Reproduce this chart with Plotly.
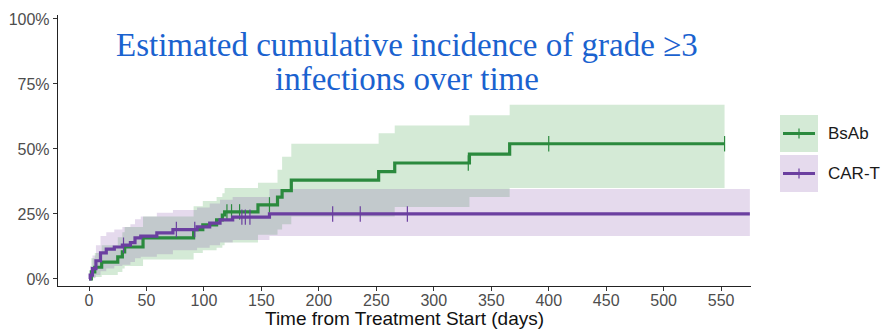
import numpy as np
import plotly.graph_objects as go

# ---------------- data ----------------
bsab_time = [0, 2, 5, 11, 25, 29, 31, 47, 91, 99, 111, 116, 118, 147, 164, 168, 176, 252, 266, 331, 366, 553]
bsab_est = [0, 2.7, 4.5, 6.5, 8.5, 10.4, 12.3, 15.8, 19.0, 20.8, 22.7, 24.6, 25.8, 28.5, 31.5, 34.0, 38.0, 41.3, 44.6, 48.0, 52.0, 52.0]
bsab_lo = [0, 0.3, 0.8, 1.5, 2.7, 4.0, 5.0, 7.5, 10, 11, 12, 13, 14, 17, 19, 21, 24, 24, 27.7, 31.5, 35, 35]
bsab_hi = [0, 8, 10, 13, 16, 18, 20, 24, 28, 30, 31.5, 33, 35, 37, 42, 47, 52, 56, 59, 63, 67, 67]
bsab_censor = [120, 124, 131, 157, 330, 400, 553]

cart_time = [0, 1, 3, 6, 10, 15, 22, 29, 36, 40, 45, 59, 73, 94, 105, 114, 125, 157, 575]
cart_est = [0, 1.5, 4, 7, 10, 11.5, 12.3, 13, 14, 15.8, 16.5, 17.7, 19, 20, 21.5, 22.7, 23.8, 25, 25]
cart_lo = [0, 0, 0.5, 1.5, 3, 4, 5, 5.5, 6.5, 8, 8.5, 9.5, 11, 12, 13, 14, 15, 16.5, 16.5]
cart_hi = [0, 5, 9, 13, 16.5, 18, 19, 20, 21, 23, 24, 25.5, 26.5, 27.5, 29, 30.5, 31.5, 34.6, 34.6]
cart_censor = [30, 76, 92, 133, 136, 140, 212, 236, 277]

groups = ["BsAb", "CAR-T"]
x_ticks = list(range(0, 551, 50))
y_ticks = [0, 25, 50, 75, 100]
y_tick_labels = ["0%", "25%", "50%", "75%", "100%"]

title_line1 = "Estimated cumulative incidence of grade \u22653"
title_line2 = "infections over time"
x_title = "Time from Treatment Start (days)"

# ---------------- style ----------------
GREEN = "#2b8a3e"
PURPLE = "#6b3fa0"
GREEN_FILL = "rgba(60,160,70,0.22)"
PURPLE_FILL = "rgba(125,70,165,0.2)"


def step_at(times, vals, t):
    i = np.searchsorted(np.array(times), t, side="right") - 1
    return [vals[k] for k in i]


fig = go.Figure()

series = [
    (groups[0], bsab_time, bsab_est, bsab_lo, bsab_hi, bsab_censor, GREEN, GREEN_FILL),
    (groups[1], cart_time, cart_est, cart_lo, cart_hi, cart_censor, PURPLE, PURPLE_FILL),
]

for name, t, est, lo, hi, cens, col, fillc in series:
    y_lo = [v / 100 for v in lo]
    y_hi = [v / 100 for v in hi]
    fig.add_trace(go.Scatter(x=t, y=y_lo, mode="lines", line=dict(width=0, shape="hv"),
                             showlegend=False, hoverinfo="skip"))
    fig.add_trace(go.Scatter(x=t, y=y_hi, mode="lines", line=dict(width=0, shape="hv"),
                             fill="tonexty", fillcolor=fillc, showlegend=False, hoverinfo="skip"))

for name, t, est, lo, hi, cens, col, fillc in series:
    fig.add_trace(go.Scatter(x=t, y=[v / 100 for v in est], mode="lines",
                             line=dict(color=col, width=3.2, shape="hv"), name=name,
                             showlegend=False))
    cy = [v / 100 for v in step_at(t, est, cens)]
    fig.add_trace(go.Scatter(x=cens, y=cy, mode="markers",
                             marker=dict(symbol="line-ns", size=11, line=dict(color=col, width=1.2)),
                             showlegend=False, hoverinfo="skip"))

# ---------------- layout ----------------
L, R, T, B = 58, 132, 15, 43
W, H = 883, 329
pw, ph = W - L - R, H - T - B


def px2x(px):
    return (px - L) / pw


def px2y(py):
    return (H - B - py) / ph


fig.update_layout(
    width=W, height=H,
    margin=dict(l=L, r=R, t=T, b=B, autoexpand=False),
    plot_bgcolor="white", paper_bgcolor="white",
    showlegend=False,
    font=dict(family="Liberation Sans, Arial, sans-serif"),
)
fig.update_xaxes(
    range=[-27, 576], tickvals=x_ticks, showgrid=False, zeroline=False, automargin=False,
    showline=True, linecolor="#222222", linewidth=1.4,
    ticks="outside", ticklen=4, tickcolor="#333333", tickwidth=1,
    ticklabelstandoff=-4,
    tickfont=dict(size=16, color="#4d4d4d"),
)
fig.update_yaxes(
    range=[-0.027, 1.015], tickvals=[v / 100 for v in y_ticks], ticktext=y_tick_labels,
    showgrid=False, zeroline=False, automargin=False,
    showline=True, linecolor="#222222", linewidth=1.4,
    ticks="outside", ticklen=4, tickcolor="#333333", tickwidth=1,
    tickfont=dict(size=16, color="#4d4d4d"),
)

# x-axis title
fig.add_annotation(text=x_title, xref="paper", yref="paper", x=px2x(404), y=px2y(318),
                   showarrow=False, xanchor="center", yanchor="middle",
                   font=dict(size=19, color="#111111"))

# title (two lines, serif, blue)
TITLE_COL = "#1a62cf"
for txt, yc in [(title_line1, 45), (title_line2, 79)]:
    fig.add_annotation(text=txt, xref="paper", yref="paper", x=px2x(407), y=px2y(yc),
                       showarrow=False, xanchor="center", yanchor="middle",
                       font=dict(family="Liberation Serif, Times New Roman, serif",
                                 size=33, color=TITLE_COL))

# legend (manual)
legend_items = [(groups[0], GREEN, GREEN_FILL, 115, 152), (groups[1], PURPLE, PURPLE_FILL, 155, 192)]
for name, col, fillc, y0, y1 in legend_items:
    fig.add_shape(type="rect", xref="paper", yref="paper", x0=px2x(780), x1=px2x(818),
                  y0=px2y(y1), y1=px2y(y0), fillcolor=fillc, line=dict(width=0), layer="below")
    ym = px2y((y0 + y1) / 2)
    fig.add_shape(type="line", xref="paper", yref="paper", x0=px2x(783), x1=px2x(815),
                  y0=ym, y1=ym, line=dict(color=col, width=3))
    fig.add_shape(type="line", xref="paper", yref="paper", x0=px2x(799), x1=px2x(799),
                  y0=px2y((y0 + y1) / 2 - 5), y1=px2y((y0 + y1) / 2 + 5), line=dict(color=col, width=1.2))
    fig.add_annotation(text=name, xref="paper", yref="paper", x=px2x(826), y=ym, showarrow=False,
                       xanchor="left", yanchor="middle", font=dict(size=17, color="#1a1a1a"))

fig.write_html("out.html")
